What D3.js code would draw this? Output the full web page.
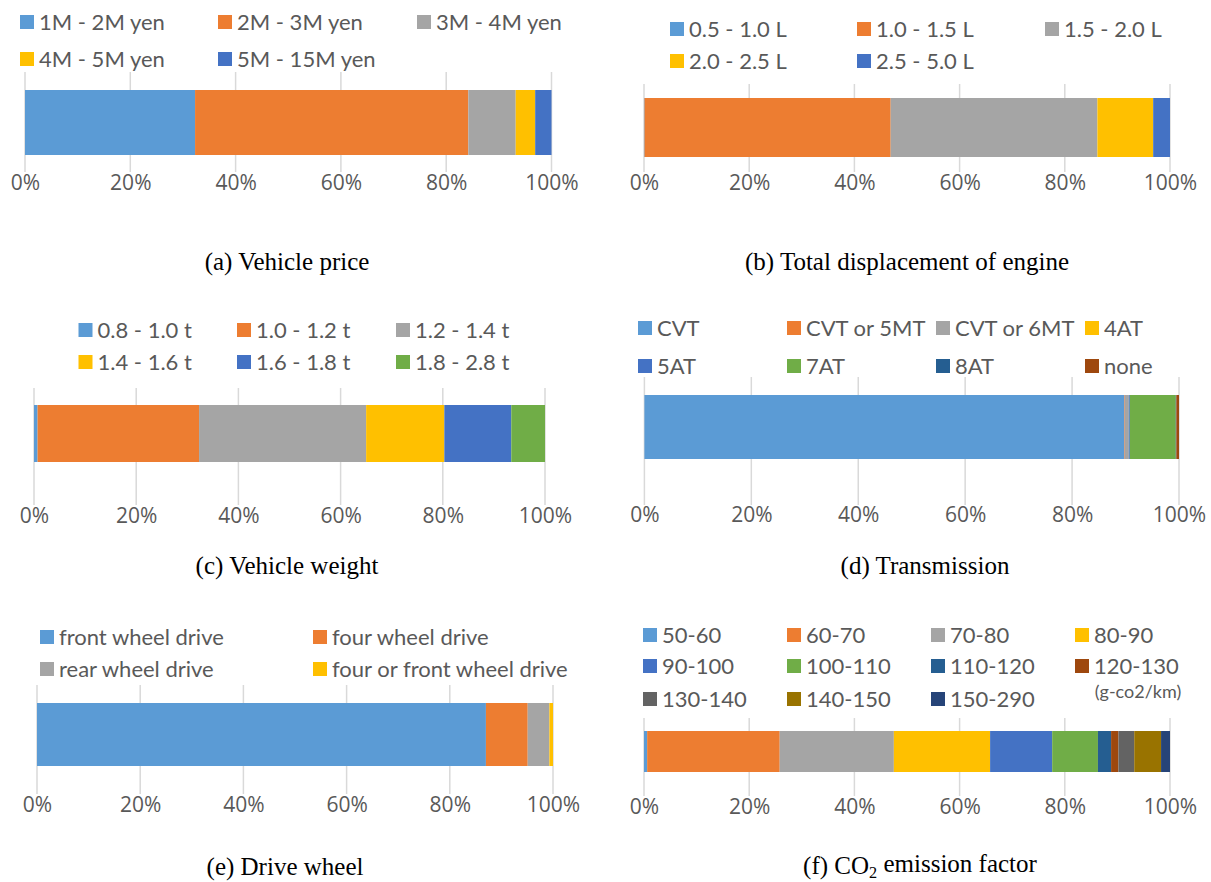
<!DOCTYPE html>
<html>
<head>
<meta charset="utf-8">
<script src="https://cdn.jsdelivr.net/npm/d3@7/dist/d3.min.js"></script>
<style>
  html, body { margin: 0; padding: 0; background: #fff; }
  svg { display: block; }
  .leg text { font-family: Lato, "Open Sans", sans-serif; fill: #595959; }
  .tick text { font-family: "Open Sans", "Noto Sans", sans-serif; fill: #595959; }
  .cap { font-family: "Liberation Serif", "DejaVu Serif", serif; fill: #000; }
</style>
</head>
<body>
<svg id="chart" width="1211" height="882"></svg>
<script>
// ---- data (shares in %, each bar sums to 100) ----
const tickValues = [0, 20, 40, 60, 80, 100];
const tickLabels = ["0%", "20%", "40%", "60%", "80%", "100%"];

const priceCats = ["1M - 2M yen", "2M - 3M yen", "3M - 4M yen", "4M - 5M yen", "5M - 15M yen"];
const priceVals = [32.3, 51.9, 9.0, 3.7, 3.1];

const dispCats = ["0.5 - 1.0 L", "1.0 - 1.5 L", "1.5 - 2.0 L", "2.0 - 2.5 L", "2.5 - 5.0 L"];
const dispVals = [0.1, 46.8, 39.3, 10.6, 3.2];

const weightCats = ["0.8 - 1.0 t", "1.0 - 1.2 t", "1.2 - 1.4 t", "1.4 - 1.6 t", "1.6 - 1.8 t", "1.8 - 2.8 t"];
const weightVals = [0.7, 31.6, 32.7, 15.3, 13.1, 6.6];

const transCats = ["CVT", "CVT or 5MT", "CVT or 6MT", "4AT", "5AT", "7AT", "8AT", "none"];
const transVals = [89.8, 0.1, 0.7, 0.0, 0.2, 8.6, 0.1, 0.5];

const driveCats = ["front wheel drive", "four wheel drive", "rear wheel drive", "four or front wheel drive"];
const driveVals = [87.0, 8.1, 4.2, 0.7];

const co2Cats = ["50-60", "60-70", "70-80", "80-90", "90-100", "100-110", "110-120", "120-130", "130-140", "140-150", "150-290"];
const co2Vals = [0.6, 25.2, 21.7, 18.3, 11.8, 8.7, 2.5, 1.4, 3.0, 5.1, 1.7];

// Office-style series palette
const palette = ["#5B9BD5", "#ED7D31", "#A5A5A5", "#FFC000", "#4472C4", "#70AD47",
                 "#255E91", "#9E480E", "#636363", "#997300", "#264478"];

// ---- panel layout ----
const panels = [
  { cats: priceCats, vals: priceVals, caption: ["(a) Vehicle price"],
    x0: 25, x1: 551.5, barTop: 90, barBot: 155, gridTop: 72, gridBot: 172, tickY: 183,
    capX: 287, capY: 261, legCols: [20, 218, 417], legRows: [22, 59] },
  { cats: dispCats, vals: dispVals, caption: ["(b) Total displacement of engine"],
    x0: 644, x1: 1170, barTop: 98, barBot: 157, gridTop: 84, gridBot: 172, tickY: 183,
    capX: 907, capY: 261, legCols: [670, 857, 1045], legRows: [29, 61] },
  { cats: weightCats, vals: weightVals, caption: ["(c) Vehicle weight"],
    x0: 34, x1: 545, barTop: 405, barBot: 462, gridTop: 388, gridBot: 505, tickY: 516,
    capX: 287, capY: 565, legCols: [78.5, 237, 396], legRows: [330, 362] },
  { cats: transCats, vals: transVals, caption: ["(d) Transmission"],
    x0: 644.4, x1: 1179, barTop: 395, barBot: 459, gridTop: 377, gridBot: 505, tickY: 515,
    capX: 925, capY: 565, legCols: [638, 787, 936, 1085], legRows: [328, 366] },
  { cats: driveCats, vals: driveVals, caption: ["(e) Drive wheel"],
    x0: 37, x1: 553, barTop: 703, barBot: 766, gridTop: 685, gridBot: 794, tickY: 805,
    capX: 285, capY: 866, legCols: [40, 313], legRows: [637, 669] },
  { cats: co2Cats, vals: co2Vals, caption: ["(f) CO", "2", " emission factor"],
    x0: 644, x1: 1170, barTop: 731, barBot: 772, gridTop: 718, gridBot: 796, tickY: 807,
    capX: 920, capY: 865, legCols: [643, 787, 931, 1075], legRows: [635, 666, 699],
    note: { text: "(g-co2/km)", x: 1138, y: 692 } }
];

const svg = d3.select("#chart");
const legendFont = 22, tickFont = 21, capFont = 25, noteFont = 18, sw = 14;

panels.forEach(p => {
  const g = svg.append("g");
  const x = d3.scaleLinear().domain([0, 100]).range([p.x0, p.x1]);

  // vertical gridlines
  g.append("g").selectAll("line").data(tickValues).join("line")
    .attr("x1", d => x(d)).attr("x2", d => x(d))
    .attr("y1", p.gridTop).attr("y2", p.gridBot)
    .attr("stroke", "#d9d9d9").attr("stroke-width", 1.5);

  // stacked bar
  const row = {};
  p.cats.forEach((c, i) => row[c] = p.vals[i]);
  const series = d3.stack().keys(p.cats)([row]);
  g.append("g").selectAll("rect").data(series).join("rect")
    .attr("x", s => x(s[0][0]))
    .attr("width", s => x(s[0][1]) - x(s[0][0]))
    .attr("y", p.barTop)
    .attr("height", p.barBot - p.barTop)
    .attr("fill", (s, i) => palette[i]);

  // percentage axis
  const axis = d3.axisBottom(x).tickValues(tickValues)
    .tickFormat((d, i) => tickLabels[i]).tickSize(0).tickPadding(0);
  const ag = g.append("g").attr("transform", `translate(0,${p.tickY})`).call(axis);
  ag.select(".domain").remove();
  ag.selectAll("text").attr("y", 0).attr("dy", "0.35em")
    .attr("font-size", tickFont).attr("font-family", null);

  // legend
  const ncol = p.legCols.length;
  const leg = g.append("g").attr("class", "leg");
  const items = leg.selectAll("g").data(p.cats).join("g")
    .attr("transform", (d, i) => `translate(${p.legCols[i % ncol]},${p.legRows[Math.floor(i / ncol)]})`);
  items.append("rect").attr("x", 0).attr("y", -sw / 2).attr("width", sw).attr("height", sw)
    .attr("fill", (d, i) => palette[i]);
  items.append("text").attr("x", sw + 5).attr("dy", "0.36em")
    .attr("font-size", legendFont).text(d => d);
  if (p.note) {
    leg.append("text").attr("x", p.note.x).attr("y", p.note.y).attr("dy", "0.35em")
      .attr("text-anchor", "middle").attr("font-size", noteFont).text(p.note.text);
  }

  // caption
  const cap = g.append("text").attr("class", "cap").attr("x", p.capX).attr("y", p.capY)
    .attr("dy", "0.35em").attr("text-anchor", "middle").attr("font-size", capFont);
  if (p.caption.length === 1) {
    cap.text(p.caption[0]);
  } else {
    cap.append("tspan").text(p.caption[0]);
    cap.append("tspan").attr("font-size", capFont * 0.65).attr("dy", "0.25em").text(p.caption[1]);
    cap.append("tspan").attr("dy", "-0.25em").text(p.caption[2]);
  }
});
</script>
</body>
</html>
